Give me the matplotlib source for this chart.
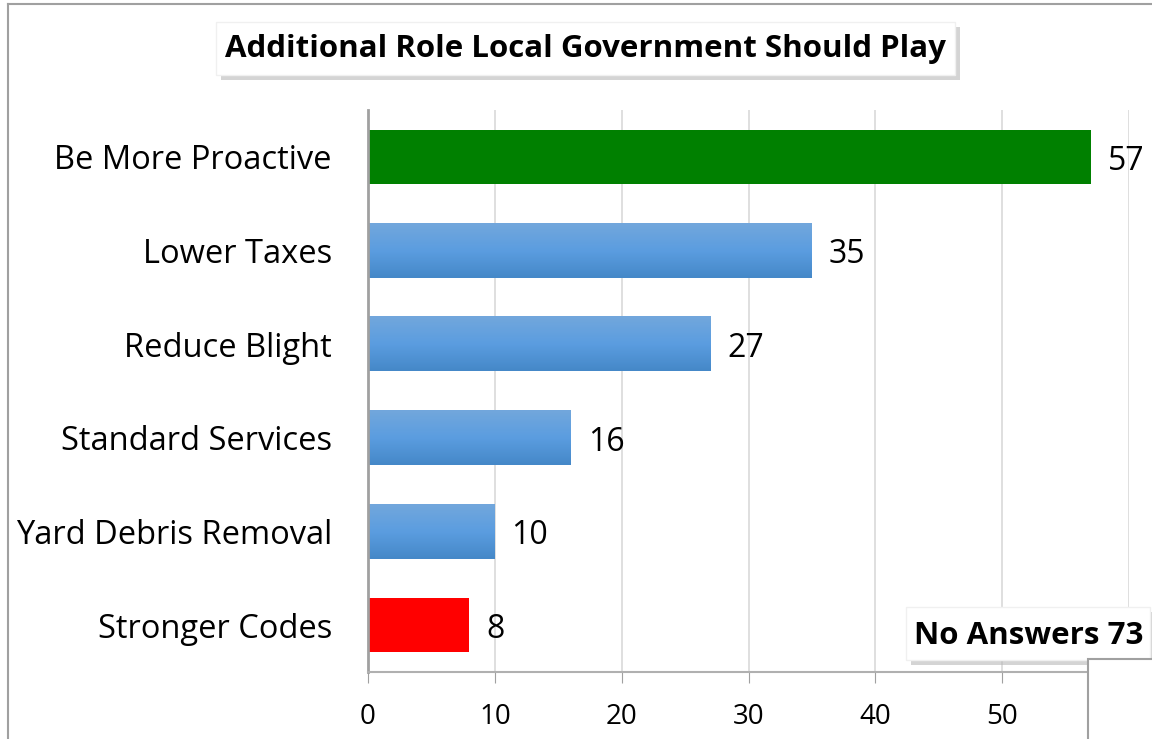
import numpy as np
import matplotlib
matplotlib.use("Agg")
import matplotlib.pyplot as plt
from matplotlib.patches import Rectangle
from matplotlib.colors import LinearSegmentedColormap

plt.rcParams['font.family'] = ['Open Sans', 'DejaVu Sans']

# data (top to bottom as shown)
categories = ["Be More Proactive", "Lower Taxes", "Reduce Blight",
              "Standard Services", "Yard Debris Removal", "Stronger Codes"]
values = [57, 35, 27, 16, 10, 8]
bar_kind = ["green", "blue", "blue", "blue", "blue", "red"]
title = "Additional Role Local Government Should Play"
note = "No Answers 73"
xticks = [0, 10, 20, 30, 40, 50]

fig = plt.figure(figsize=(11.52, 7.39), dpi=100)
W, H = 1152, 739

def fx(px):
    return px / W

def fy(py):
    return 1 - py / H

ax = fig.add_axes([fx(368), fy(672), fx(1129) - fx(368), fy(110) - fy(672)])

blue_cmap = LinearSegmentedColormap.from_list(
    "bluegrad", ["#4588c8", "#5b9de0", "#72a7dc"])
grad = np.linspace(0, 1, 100).reshape(-1, 1)

ypos = np.arange(len(categories))
bar_h = 0.58
for y, v, kind in zip(ypos, values, bar_kind):
    if kind == "blue":
        ax.imshow(grad, cmap=blue_cmap, aspect="auto", origin="lower",
                  extent=(0, v, y + bar_h / 2, y - bar_h / 2), zorder=2)
    else:
        ax.barh(y, v, height=bar_h, color="#008000" if kind == "green" else "#ff0000",
                zorder=2)
    ax.annotate(str(v), (v, y), xytext=(12, -3), textcoords="offset points",
                va="center", ha="left", fontsize=23, color="black")

ax.set_xlim(0, 60)
ax.set_ylim(len(categories) - 0.5, -0.5)
ax.set_yticks(ypos)
ax.set_yticklabels(categories, fontsize=23.5)
ax.set_xticks(xticks + [60])
ax.set_xticklabels([str(t) for t in xticks] + [""], fontsize=20)
ax.tick_params(axis="y", length=0, pad=26)
ax.tick_params(axis="x", length=8, color="#a0a0a0", pad=14)
ax.grid(axis="x", color="#d9d9d9", linewidth=1.2, zorder=0)
ax.set_axisbelow(True)
for s in ["top", "right"]:
    ax.spines[s].set_visible(False)
ax.spines["left"].set_color("#a0a0a0")
ax.spines["left"].set_linewidth(2)
ax.spines["bottom"].set_color("#b0b0b0")
ax.spines["bottom"].set_linewidth(1.5)

# outer chart border (cropped)
fig.add_artist(plt.Line2D([fx(8), fx(8)], [fy(4), 0], color="#a0a0a0", lw=1.5))
fig.add_artist(plt.Line2D([fx(8), 1], [fy(4), fy(4)], color="#a0a0a0", lw=1.5))

# boxes with drop shadow
def shadow_box(x0, y0, x1, y1):
    fig.add_artist(Rectangle((fx(x0 + 5), fy(y1 + 5)), fx(x1) - fx(x0), fy(y0) - fy(y1),
                             facecolor="#b8b8b8", edgecolor="none", alpha=0.6, zorder=5))
    fig.add_artist(Rectangle((fx(x0), fy(y1)), fx(x1) - fx(x0), fy(y0) - fy(y1),
                             facecolor="white", edgecolor="#f0f0f0", zorder=6))

shadow_box(216, 22, 955, 75)
fig.text(fx(585), fy(49), title, ha="center", va="center", fontsize=22.5,
         fontweight="bold", zorder=7)

shadow_box(906, 607, 1150, 660)
fig.text(fx(1029), fy(636), note, ha="center", va="center", fontsize=22.5,
         fontweight="bold", zorder=7)

# overlapping box at bottom right
fig.add_artist(Rectangle((fx(1088), -0.01), 0.2, fy(659) + 0.01,
                         facecolor="white", edgecolor="#a0a0a0", lw=1.5, zorder=8))

fig.savefig("out.png", dpi=100)
